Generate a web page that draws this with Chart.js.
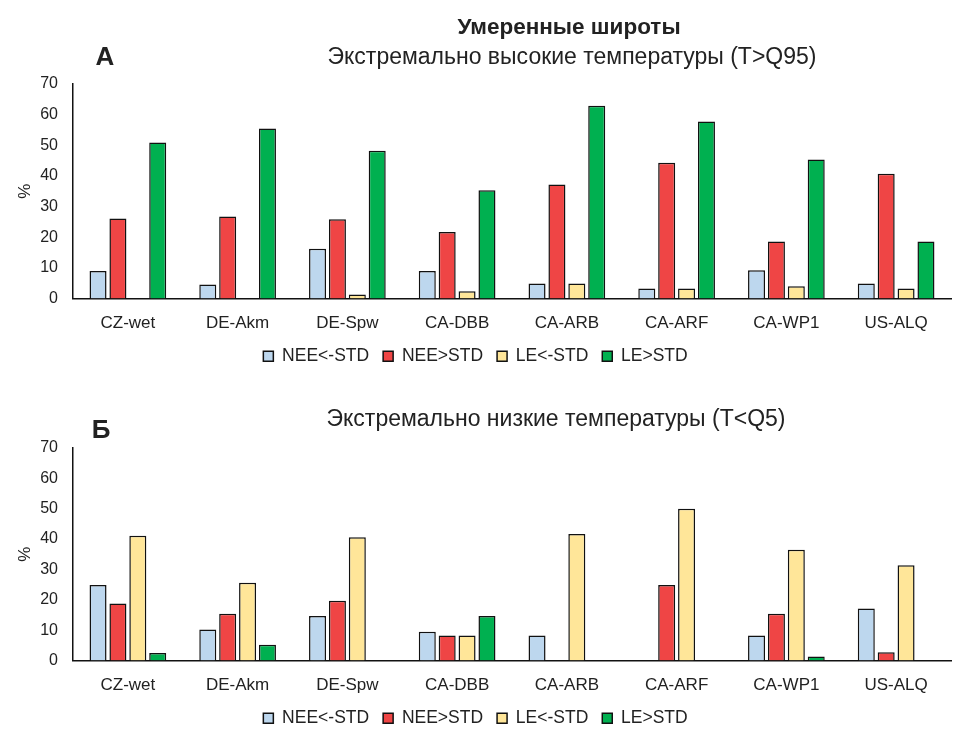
<!DOCTYPE html>
<html lang="ru">
<head>
<meta charset="UTF-8">
<title>Умеренные широты</title>
<script src="https://cdn.jsdelivr.net/npm/chart.js"></script>
<style>
    body { margin: 0; background: #fff; font-family: "Liberation Sans", Arial, sans-serif; }
    #wrap { position: relative; width: 971px; height: 741px; }
    .box { position: absolute; left: 0; width: 971px; }
    .lbl { position: absolute; transform: translate(-50%, -50%); white-space: nowrap; color: #222; }
</style>
</head>
<body>
<div id="wrap">
    <div class="box" style="top:0;height:380px"><canvas id="hotChart"></canvas></div>
    <div class="box" style="top:380px;height:361px"><canvas id="coldChart"></canvas></div>

    <div class="lbl" style="left:569px;top:27px;font-size:22.5px;font-weight:bold">Умеренные широты</div>
    <div class="lbl" style="left:572px;top:56px;font-size:23px">Экстремально высокие температуры (T&gt;Q95)</div>
    <div class="lbl" style="left:105px;top:56px;font-size:26px;font-weight:bold">А</div>
    <div class="lbl" style="left:556px;top:418px;font-size:23px">Экстремально низкие температуры (T&lt;Q5)</div>
    <div class="lbl" style="left:101px;top:429px;font-size:26px;font-weight:bold">Б</div>
</div>

<script>
    // станции
    const sites = ['CZ-wet', 'DE-Akm', 'DE-Spw', 'CA-DBB', 'CA-ARB', 'CA-ARF', 'CA-WP1', 'US-ALQ'];
    const seriesNames = ['NEE<-STD', 'NEE>STD', 'LE<-STD', 'LE>STD'];
    const seriesColors = ['#BDD7EE', '#EF4545', '#FFE699', '#00B050'];
    const yMin = 0, yMax = 70, yStep = 10;

    // А: T>Q95
    const hotNeeLow  = [9.0, 4.6, 16.2, 9.0, 4.9, 3.3, 9.2, 4.9];
    const hotNeeHigh = [26.1, 26.8, 25.9, 21.7, 37.2, 44.3, 18.6, 40.7];
    const hotLeLow   = [0, 0, 1.3, 2.4, 4.9, 3.3, 4.0, 3.3];
    const hotLeHigh  = [50.9, 55.5, 48.2, 35.3, 62.9, 57.8, 45.4, 18.6];

    // Б: T<Q5
    const coldNeeLow  = [24.9, 10.2, 14.7, 9.5, 8.2, 0, 8.2, 17.1];
    const coldNeeHigh = [18.8, 15.4, 19.7, 8.2, 0, 24.9, 15.4, 2.7];
    const coldLeLow   = [41.1, 25.6, 40.6, 8.2, 41.7, 50.0, 36.5, 31.4];
    const coldLeHigh  = [2.5, 5.2, 0, 14.7, 0, 0, 1.3, 0];

    const font = "'Liberation Sans', Arial, sans-serif";

    function makeChart(id, series, padTop, padBottom) {
        var ctx = document.getElementById(id).getContext('2d');
        return new Chart(ctx, {
            type: 'bar',
            data: {
                labels: sites,
                datasets: series.map(function (vals, i) {
                    return {
                        label: seriesNames[i],
                        data: vals,
                        backgroundColor: seriesColors[i],
                        borderColor: '#111',
                        borderWidth: 1.5,
                        borderSkipped: 'start',
                        categoryPercentage: 0.725,
                        barPercentage: 0.855
                    };
                })
            },
            options: {
                responsive: true,
                maintainAspectRatio: false,
                animation: false,
                layout: { padding: { top: padTop, right: 20, bottom: padBottom, left: 0 } },
                plugins: {
                    tooltip: { enabled: false },
                    legend: {
                        position: 'bottom',
                        labels: {
                            boxWidth: 10,
                            boxHeight: 10,
                            padding: 14,
                            color: '#222',
                            font: { family: font, size: 17.5 }
                        }
                    }
                },
                scales: {
                    x: {
                        afterFit: function (scale) { scale.height = 35; },
                        grid: { display: false, drawTicks: false },
                        border: { display: true, color: '#111', width: 1.5 },
                        ticks: { color: '#222', padding: 15, font: { family: font, size: 17 } }
                    },
                    y: {
                        min: yMin,
                        max: yMax,
                        afterFit: function (scale) { scale.width = 73; },
                        grid: { display: false, drawTicks: false },
                        border: { display: true, color: '#111', width: 1.5 },
                        ticks: { stepSize: yStep, color: '#222', padding: 15, font: { family: font, size: 16 } },
                        title: {
                            display: true,
                            text: '%',
                            color: '#222',
                            padding: { top: 15, bottom: 4 },
                            font: { family: font, size: 17 }
                        }
                    }
                }
            }
        });
    }

    document.addEventListener('DOMContentLoaded', function () {
        makeChart('hotChart', [hotNeeLow, hotNeeHigh, hotLeLow, hotLeHigh], 84, 5);
        makeChart('coldChart', [coldNeeLow, coldNeeHigh, coldLeLow, coldLeHigh], 68, 4);
    });
</script>
</body>
</html>
